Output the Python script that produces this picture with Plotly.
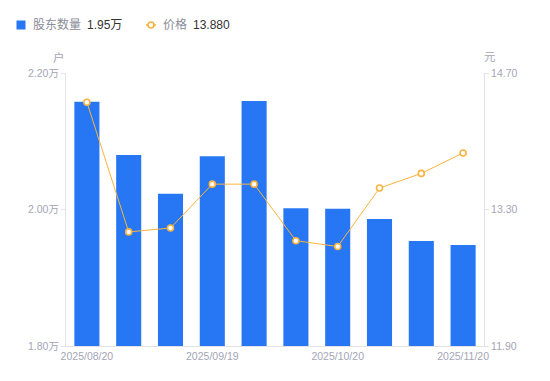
import plotly.graph_objects as go

dates = ["2025/08/20", "2025/08/29", "2025/09/10", "2025/09/19", "2025/09/30",
         "2025/10/10", "2025/10/20", "2025/10/31", "2025/11/10", "2025/11/20"]
holders = [2.158, 2.080, 2.023, 2.078, 2.159, 2.002, 2.001, 1.986, 1.954, 1.948]  # 万户
price = [14.40, 13.07, 13.11, 13.56, 13.56, 12.98, 12.92, 13.52, 13.67, 13.88]

left_ticks = [1.80, 2.00, 2.20]
left_labels = ["1.80万", "2.00万", "2.20万"]
right_ticks = [11.90, 13.30, 14.70]
right_labels = ["11.90", "13.30", "14.70"]
x_tick_idx = [0, 3, 6, 9]

FONT = "Liberation Sans, Noto Sans CJK SC, sans-serif"
TICK_COLOR = "#a3a5b6"
LABEL_COLOR = "#8a8c99"
BLUE = "#2777f4"
ORANGE = "#fbb33f"

OFF = 8  # default page body margin
W, H = 550 - OFF, 381 - OFF
# plot area in window pixels: x 66..484, y 73..346
ML, MR, MT, MB = 66 - OFF, 550 - 484, 73 - OFF, 381 - 346
PW, PH = W - ML - MR, H - MT - MB


def px(x):
    return (x - OFF - ML) / PW


def py(y):
    return (H - MB - (y - OFF)) / PH


fig = go.Figure()
fig.add_trace(go.Bar(
    x=dates, y=holders, marker=dict(color=BLUE, line=dict(width=0)),
    width=0.6, name="股东数量", yaxis="y", showlegend=False,
))
fig.add_trace(go.Scatter(
    x=dates, y=price, mode="lines+markers",
    line=dict(color=ORANGE, width=1),
    marker=dict(symbol="circle", size=6, color="white", line=dict(color=ORANGE, width=1.6)),
    name="价格", yaxis="y2", showlegend=False,
))

# manual legend
legend_y = 25
shapes = [
    dict(type="rect", xref="paper", yref="paper",
         x0=px(16.5), x1=px(25.5), y0=py(29.5), y1=py(20.5),
         fillcolor=BLUE, line=dict(width=0)),
    dict(type="line", xref="paper", yref="paper",
         x0=px(146), x1=px(156), y0=py(legend_y), y1=py(legend_y),
         line=dict(color=ORANGE, width=1.5)),
    dict(type="circle", xref="paper", yref="paper",
         x0=px(148), x1=px(154), y0=py(legend_y + 3), y1=py(legend_y - 3),
         fillcolor="white", line=dict(color=ORANGE, width=1.6)),
]
annotations = [
    dict(text="股东数量", x=px(30.5), y=py(legend_y), xref="paper", yref="paper",
         xanchor="left", yanchor="middle", showarrow=False,
         font=dict(size=12, color=LABEL_COLOR)),
    dict(text="%.2f万" % holders[-1], x=px(84.5), y=py(legend_y), xref="paper", yref="paper",
         xanchor="left", yanchor="middle", showarrow=False,
         font=dict(size=12, color="#333333")),
    dict(text="价格", x=px(161), y=py(legend_y), xref="paper", yref="paper",
         xanchor="left", yanchor="middle", showarrow=False,
         font=dict(size=12, color=LABEL_COLOR)),
    dict(text="%.3f" % price[-1], x=px(191), y=py(legend_y), xref="paper", yref="paper",
         xanchor="left", yanchor="middle", showarrow=False,
         font=dict(size=12, color="#333333")),
    dict(text="户", x=px(59), y=py(57), xref="paper", yref="paper",
         xanchor="center", yanchor="middle", showarrow=False,
         font=dict(size=11.5, color=TICK_COLOR)),
    dict(text="元", x=px(490), y=py(57), xref="paper", yref="paper",
         xanchor="center", yanchor="middle", showarrow=False,
         font=dict(size=11.5, color=TICK_COLOR)),
]

fig.update_layout(
    width=W, height=H,
    margin=dict(l=ML, r=MR, t=MT, b=MB, autoexpand=False),
    paper_bgcolor="white", plot_bgcolor="white",
    font=dict(family=FONT, size=11, color=TICK_COLOR),
    showlegend=False,
    bargap=0.4,
    xaxis=dict(type="category", tickvals=[dates[i] for i in x_tick_idx],
               ticktext=[dates[i] for i in x_tick_idx], automargin=False,
               showline=True, linecolor="#e3e3e6", linewidth=1,
               showgrid=False, ticks="", tickfont=dict(size=10.5, color=TICK_COLOR),
               zeroline=False, range=[-0.5, 9.5]),
    yaxis=dict(range=[1.80, 2.20], tickvals=left_ticks, ticktext=left_labels,
               automargin=False,
               showline=True, linecolor="#e3e3e6", linewidth=1,
               ticks="outside", ticklen=4, tickcolor="#e3e3e6",
               showgrid=False, zeroline=False,
               tickfont=dict(size=10.5, color=TICK_COLOR)),
    yaxis2=dict(range=[11.90, 14.70], tickvals=right_ticks, ticktext=right_labels,
                overlaying="y", side="right", automargin=False,
                showline=True, linecolor="#e3e3e6", linewidth=1,
                ticks="outside", ticklen=4, tickcolor="#e3e3e6",
                showgrid=False, zeroline=False,
                tickfont=dict(size=10.5, color=TICK_COLOR)),
    shapes=shapes,
    annotations=annotations,
)

fig.write_html("out.html")
